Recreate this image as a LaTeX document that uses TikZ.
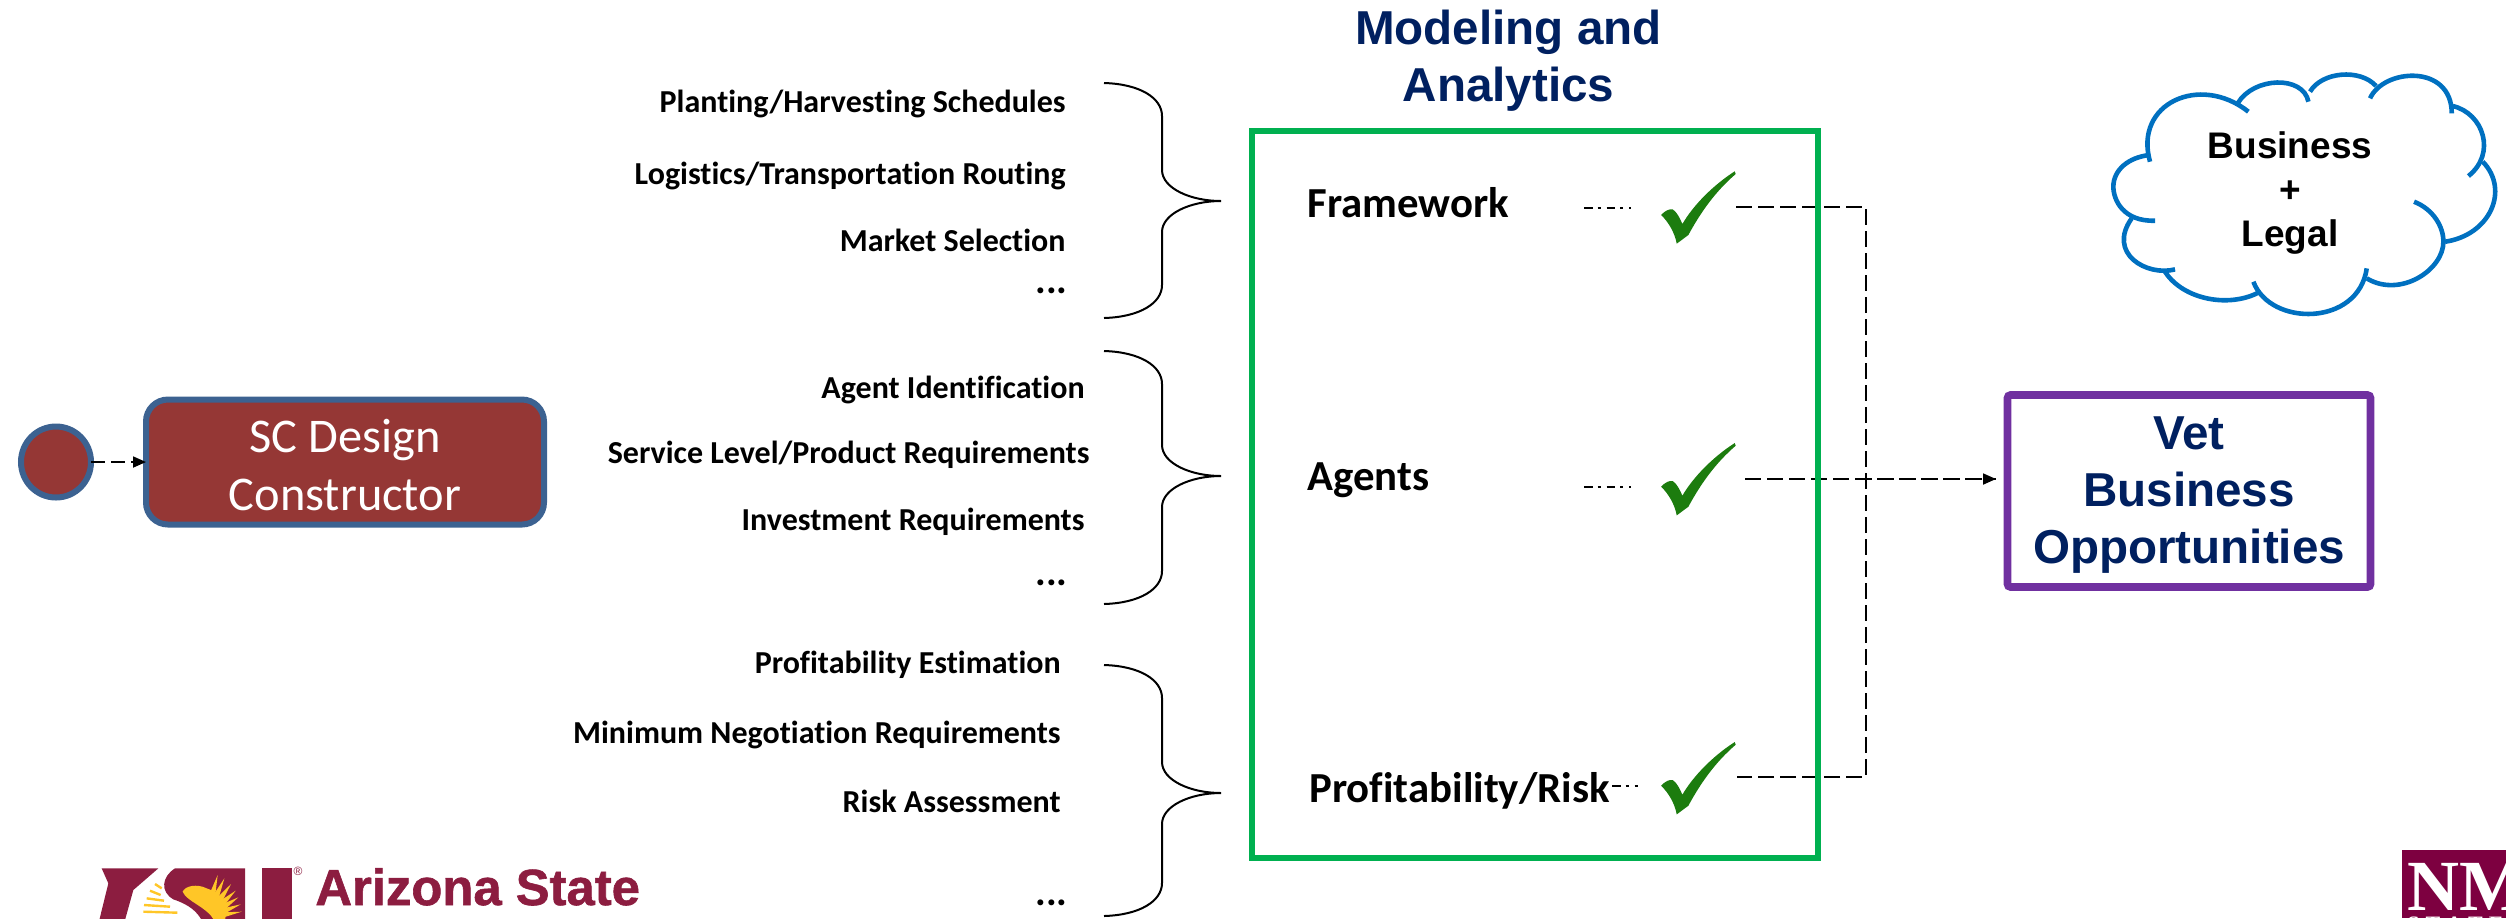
\documentclass[tikz,border=0pt]{standalone}
\usepackage{fontspec}
\setmainfont[Ligatures=NoCommon]{Carlito}
\newfontfamily\arialf{Liberation Sans}
\newfontfamily\heavyf[BoldFeatures={FakeBold=1.2}]{Liberation Sans}
\newfontfamily\timesf{Liberation Serif}
\usetikzlibrary{arrows.meta,calc,shapes.geometric}
\definecolor{bluebord}{HTML}{3C6291}
\definecolor{redfill}{HTML}{953735}
\definecolor{navy}{HTML}{002060}
\definecolor{greenbox}{HTML}{00B050}
\definecolor{purplebox}{HTML}{7030A0}
\definecolor{cloudblue}{HTML}{0070C0}
\definecolor{checkgreen}{HTML}{1C7C0E}
\definecolor{asumaroon}{HTML}{8C1D40}
\definecolor{asugold}{HTML}{FFC627}
\definecolor{nmmaroon}{HTML}{7D0040}
\tikzset{
  listtext/.style={anchor=east,inner sep=0pt,font=\fontsize{16}{19}\selectfont\bfseries},
  dotstext/.style={anchor=east,inner sep=0pt,font=\fontsize{20}{22}\selectfont\bfseries},
  headtext/.style={anchor=west,inner sep=0pt,font=\fontsize{21.4}{25}\selectfont\bfseries},
  bigtitle/.style={align=center,inner sep=0pt,text=navy,font=\fontsize{23.8}{28.5}\selectfont\arialf\bfseries},
  longdash/.style={draw=black,line width=0.9pt,dash pattern=on 8pt off 3pt},
  tinydash/.style={draw=black,line width=0.8pt,dash pattern=on 4.3pt off 2.5pt on 1.5pt off 3pt},
  bracestyle/.style={draw=black,line width=1pt},
  cloudline/.style={draw=cloudblue,line width=2.3pt},
  tipstyle/.style={-{Triangle[length=6.5pt,width=5.5pt]}},
}
\newcommand{\bracepath}[3]{%
  \draw[bracestyle] (1104,#1) .. controls (1140,#1+1) and (1162,#1+15) .. (1162,#1+33)
    -- (1162,#2-31) .. controls (1162,#2-13) and (1190,#2) .. (1221,#2)
    .. controls (1190,#2) and (1162,#2+13) .. (1162,#2+31)
    -- (1162,#3-33) .. controls (1162,#3-15) and (1140,#3-1) .. (1104,#3);}
\newcommand{\checkshape}[1]{%
  \begin{scope}[shift={(1560,#1)},x=0.1667pt,y=-0.1667pt]
    \fill[checkgreen] (303,195) .. controls (315,182) and (328,176) .. (338,178)
      .. controls (350,185) and (360,205) .. (367,222)
      .. controls (400,165) and (460,105) .. (524,64) -- (527,72)
      .. controls (465,125) and (420,190) .. (385,255)
      -- (350,281) .. controls (345,250) and (325,215) .. (303,195) -- cycle;
  \end{scope}}
\begin{document}
\begin{tikzpicture}[x=0.5pt,y=-0.5pt]
\useasboundingbox (0,0) rectangle (2506,918);
\begin{scope}
\clip (0,0) rectangle (2506,918);

% left flow
\node[draw=bluebord,fill=redfill,line width=3pt,rounded corners=11pt,minimum width=199pt,minimum height=62.5pt,inner sep=0pt,outer sep=0pt] (sc) at (345,462) {};
\node[align=center,text=white,inner sep=0pt,font=\fontsize{24.2}{29}\selectfont] (sctext) at (345,465) {SC Design\\Constructor};
\node[ellipse,draw=bluebord,fill=redfill,line width=3pt,minimum width=35pt,minimum height=35.5pt,inner sep=0pt,outer sep=0pt] (start) at (56,462) {};
\draw[longdash,dash pattern=on 7pt off 3pt,tipstyle] (start.east) -- (sc.west);

% lists
\node[listtext] (a1) at (1066,104) {Planting/Harvesting Schedules};
\node[listtext] (a2) at (1066,176) {Logistics/Transportation Routing};
\node[listtext] (a3) at (1066,240) {Market Selection};
\node[dotstext] (a4) at (1068,291) {...};
\node[listtext] (b1) at (1085,390) {Agent Identification};
\node[listtext] (b2) at (1090,455) {Service Level/Product Requirements};
\node[listtext] (b3) at (1085,522) {Investment Requirements};
\node[dotstext] (b4) at (1068,583) {...};
\node[listtext] (c1) at (1061,665) {Profitability Estimation};
\node[listtext] (c2) at (1061,735) {Minimum Negotiation Requirements};
\node[listtext] (c3) at (1061,801) {Risk Assessment};
\node[dotstext] (c4) at (1068,903) {...};

\bracepath{83}{201}{318}
\bracepath{351}{476}{604}
\bracepath{665}{793}{916}

% connectors (under the green frame)
\coordinate (f1) at (1736,207);
\coordinate (f2) at (1745,479);
\coordinate (f3) at (1737,777);
\coordinate (j1) at (1866,207);
\coordinate (j2) at (1866,777);
\coordinate (j3) at (1866,479);
\coordinate (endv) at (1996,479);
\coordinate (d1a) at (1584,208);
\coordinate (d1b) at (1631,208);
\coordinate (d2a) at (1584,487);
\coordinate (d2b) at (1631,487);
\coordinate (d3a) at (1612,786);
\coordinate (d3b) at (1638,786);
\draw[longdash] (f1) -- (j1) -- (j2) -- (f3);
\draw[longdash,tipstyle] (f2) -- (endv);
\draw[longdash,dash phase=5pt] (j3) -- (endv);
\draw[tinydash] (d1a) -- (d1b);
\draw[tinydash] (d2a) -- (d2b);
\draw[tinydash] (d3a) -- (d3b);

% frame
\node[draw=greenbox,line width=2.75pt,minimum width=283pt,minimum height=363.5pt,inner sep=0pt,outer sep=0pt] (frame) at (1535,494.5) {};
\node[bigtitle] (title) at (1508.5,61) {Modeling and\\Analytics};
\node[headtext] (h1) at (1307,203) {Framework};
\node[headtext] (h2) at (1307,480) {Agents};
\node[headtext] (h3) at (1309,791) {Profitability/Risk};

\checkshape{150}
\checkshape{421.7}
\checkshape{720.7}

% Vet box
\node[draw=purplebox,line width=3.8pt,rounded corners=1.5pt,minimum width=181.5pt,minimum height=96pt,inner sep=0pt,outer sep=0pt] (vet) at (2189,491) {};
\node[bigtitle] (vettext) at (2189,495) {Vet\\Business\\Opportunities};

% cloud
\begin{scope}[shift={(2090,50)},x=0.1667pt,y=-0.1667pt]
\draw[cloudline] (180,335) .. controls (130,160) and (330,70) .. (475,185);
\draw[cloudline] (443,160) .. controls (490,80) and (640,75) .. (655,155);
\draw[cloudline] (660,125) .. controls (695,65) and (810,55) .. (858,108);
\draw[cloudline] (840,145) .. controls (880,55) and (1085,40) .. (1085,190);
\draw[cloudline] (1088,168) .. controls (1180,190) and (1220,310) .. (1135,378);
\draw[cloudline] (1178,335) .. controls (1260,420) and (1200,555) .. (1065,575);
\draw[cloudline] (972,455) .. controls (1030,478) and (1060,530) .. (1060,575) .. controls (1060,660) and (930,745) .. (830,685);
\draw[cloudline] (830,655) .. controls (805,830) and (540,830) .. (490,695);
\draw[cloudline] (510,725) .. controls (420,775) and (280,750) .. (225,665);
\draw[cloudline] (255,658) .. controls (170,680) and (50,610) .. (125,505);
\draw[cloudline] (195,512) .. controls (100,515) and (70,450) .. (70,410) .. controls (70,360) and (115,322) .. (178,315);
\end{scope}
\node[align=center,inner sep=0pt,font=\fontsize{18.5}{22}\selectfont\arialf\bfseries] (cloudtext) at (2290,193) {Business\\+\\Legal};

% ASU logo
\begin{scope}[shift={(90,860)},x=0.1667pt,y=-0.1667pt]
\fill[asumaroon] (35,25) -- (205,25) -- (130,90) -- (105,180) -- (28,180) -- (55,70) -- cycle;
\fill[asumaroon] (255,25) .. controls (215,50) and (210,95) .. (250,118) .. controls (300,135) and (320,155) .. (335,180) -- (465,180) -- (465,25) -- cycle;
\fill[asumaroon] (515,25) rectangle (605,180);
\foreach \tx/\ty in {383/45,403/55,423/72,437/92,445/112,452/133,455/155}
  \fill[asugold] (\tx,\ty) -- ($(350,170)!0.45!(\tx,\ty)+(-9,-6)$) -- ($(350,170)!0.45!(\tx,\ty)+(9,7)$) -- cycle;
\fill[asugold] (278,95) .. controls (285,78) and (320,70) .. (350,85) .. controls (395,100) and (415,140) .. (405,180) -- (372,180) .. controls (350,140) and (290,125) .. (278,95) -- cycle;
\foreach \ax/\ay/\bx/\by in {195/72/215/85,180/92/212/105,170/115/222/122,162/135/240/140,160/155/262/158}
  \draw[asugold,line width=1.2pt] (\ax,\ay) -- (\bx,\by);
\end{scope}
\node[text=asumaroon,inner sep=0pt,font=\fontsize{6}{7}\selectfont\arialf] (reg) at (298,871) {®};
\node[anchor=base west,inner sep=0pt,text=asumaroon,font=\fontsize{25.4}{30}\selectfont\heavyf\bfseries] (asu) at (315,905) {Arizona State};

% NM logo
\fill[nmmaroon] (2402,850) rectangle (2506,918);
\node[anchor=base west,inner sep=0pt,text=white,font=\fontsize{36}{40}\selectfont\timesf\bfseries] (nm) at (2407,910) {NM};
\node[anchor=base west,inner sep=0pt,text=white,font=\fontsize{11}{13}\selectfont\timesf\bfseries] (state) at (2407,931) {S\hspace{3pt}T\hspace{3pt}A\hspace{3pt}T\hspace{3pt}E};
\end{scope}
\end{tikzpicture}
\end{document}
